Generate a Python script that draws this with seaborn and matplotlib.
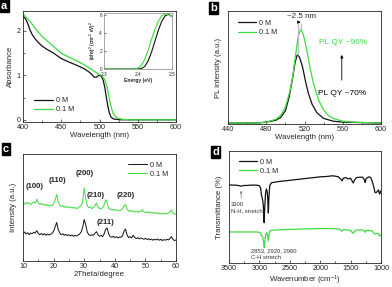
import numpy as np
import pandas as pd
import matplotlib
matplotlib.use('Agg')
import matplotlib.pyplot as plt
import seaborn as sns
from matplotlib.ticker import AutoMinorLocator, MultipleLocator

# ---- colours / labels
BLACK = '#111111'
GREEN = '#3ddc3d'
labels = ['0 M', '0.1 M']

# ---- (a) absorbance
abs_wl_0 = [400, 403, 406, 409, 412, 416, 420, 425, 430, 440, 450, 460, 470, 480, 486, 490, 493, 496,
            499, 501, 503, 505, 507, 509, 511, 513, 515, 518, 522, 527, 535, 560, 600]
abs_0 = [2.34, 2.28, 2.18, 2.03, 1.92, 1.82, 1.74, 1.66, 1.60, 1.50, 1.38, 1.30, 1.23, 1.15, 1.08, 1.02,
         0.96, 0.96, 1.00, 1.00, 0.96, 0.88, 0.72, 0.50, 0.30, 0.15, 0.06, 0.02, 0.01, 0.0, 0.0, 0.0, 0.0]
abs_wl_1 = [400, 403, 406, 410, 415, 420, 425, 430, 440, 450, 460, 470, 480, 490, 496, 500, 503, 506,
            508, 510, 512, 514, 516, 518, 521, 525, 530, 540, 560, 600]
abs_1 = [2.39, 2.33, 2.27, 2.20, 2.08, 1.97, 1.88, 1.80, 1.65, 1.50, 1.41, 1.33, 1.24, 1.13, 1.06, 1.02,
         0.99, 0.93, 0.85, 0.72, 0.55, 0.38, 0.24, 0.14, 0.07, 0.03, 0.01, 0.0, 0.0, 0.0]

# inset: Tauc plot
ins_e_0 = [2.30, 2.35, 2.40, 2.41, 2.42, 2.43, 2.44, 2.45, 2.46, 2.47, 2.48, 2.49, 2.50]
ins_0 = [0, 0, 0, 0.05, 0.3, 0.9, 1.9, 3.1, 4.3, 5.3, 5.9, 6.05, 5.8]
ins_e_1 = [2.30, 2.35, 2.39, 2.40, 2.41, 2.42, 2.43, 2.44, 2.45, 2.46, 2.47, 2.48, 2.49, 2.50]
ins_1 = [0, 0, 0, 0.08, 0.4, 1.1, 2.1, 3.3, 4.4, 5.3, 5.9, 6.1, 6.0, 5.8]

# ---- (b) PL
pl_wl_0 = [440, 470, 480, 490, 495, 500, 504, 507, 510, 512, 513, 515, 518, 521, 524, 528, 533, 540,
           550, 560, 600]
pl_0 = [0, 0, 0.01, 0.03, 0.06, 0.13, 0.28, 0.45, 0.64, 0.72, 0.73, 0.70, 0.60, 0.45, 0.32, 0.20,
        0.11, 0.05, 0.02, 0.01, 0]
pl_wl_1 = [440, 470, 480, 490, 495, 500, 505, 508, 511, 513, 515, 516, 518, 520, 523, 526, 530, 535,
           540, 545, 550, 560, 570, 600]
pl_1 = [0, 0, 0.01, 0.04, 0.08, 0.17, 0.35, 0.52, 0.75, 0.90, 0.98, 1.0, 0.97, 0.90, 0.75, 0.58,
        0.40, 0.24, 0.14, 0.08, 0.05, 0.02, 0.01, 0]

# ---- (c) XRD
two_theta = [10, 10.5, 11, 11.5, 12, 12.5, 13, 13.5, 14, 14.5, 15, 15.5, 16, 16.5, 17, 17.5, 18, 18.5,
             19, 19.5, 20, 20.5, 21, 21.5, 22, 22.5, 23, 23.5, 24, 24.5, 25, 25.5, 26, 26.5, 27, 27.5,
             28, 28.5, 29, 29.5, 30, 30.5, 31, 31.5, 32, 32.5, 33, 33.5, 34, 34.5, 35, 35.5, 36, 36.5,
             37, 37.5, 38, 38.5, 39, 39.5, 40, 40.5, 41, 41.5, 42, 42.5, 43, 43.5, 44, 44.5, 45, 45.5,
             46, 46.5, 47, 47.5, 48, 48.5, 49, 49.5, 50, 50.5, 51, 51.5, 52, 52.5, 53, 53.5, 54, 54.5,
             55, 55.5, 56, 56.5, 57, 57.5, 58, 58.5, 59, 59.5, 60]
xrd_0 = [84, 88, 82, 86, 80, 85, 83, 87, 85, 92, 84, 80, 84, 79, 83, 78, 82, 79,
         81, 84, 90, 104, 117, 96, 85, 80, 83, 78, 81, 77, 80, 76, 79, 75, 78, 76,
         79, 82, 88, 102, 126, 110, 88, 80, 77, 80, 78, 84, 89, 80, 75, 78, 74, 82,
         96, 100, 82, 74, 72, 75, 71, 74, 70, 73, 72, 76, 90, 97, 79, 71, 74, 70,
         78, 72, 68, 71, 67, 70, 68, 66, 69, 65, 68, 64, 67, 63, 66, 64, 67, 63,
         66, 62, 65, 63, 66, 64, 68, 74, 66, 62, 64]
xrd_1 = [176, 172, 178, 174, 177, 171, 175, 179, 176, 188, 177, 172, 175, 170, 173, 168, 171, 167,
         170, 168, 174, 185, 202, 180, 170, 166, 168, 163, 166, 162, 165, 161, 164, 160, 163, 159,
         162, 165, 168, 180, 222, 190, 168, 162, 164, 159, 163, 168, 176, 163, 160, 158, 162, 170,
         186, 176, 160, 156, 158, 154, 157, 153, 155, 152, 155, 158, 168, 171, 158, 151, 154, 150,
         153, 149, 152, 148, 151, 150, 156, 149, 147, 150, 146, 149, 145, 148, 144, 147, 143, 146,
         143, 146, 142, 145, 143, 146, 149, 155, 146, 142, 144]
hkl = ['(100)', '(110)', '(200)', '(210)', '(220)', '(211)']
hkl_x = [13.8, 21.4, 30.1, 33.9, 43.5, 37.0]
hkl_y = [225, 245, 267, 200, 200, 117]

# ---- (d) FTIR
ir_wn_0 = [3500, 3450, 3400, 3350, 3300, 3250, 3200, 3150, 3100, 3050, 3020, 3000, 2980, 2965, 2955,
           2940, 2930, 2922, 2912, 2900, 2885, 2870, 2860, 2853, 2845, 2830, 2800, 2700, 2600, 2500,
           2400, 2300, 2200, 2100, 2000, 1900, 1800, 1750, 1700, 1660, 1640, 1620, 1580, 1540, 1500,
           1470, 1455, 1440, 1400, 1350, 1300, 1270, 1260, 1245, 1200, 1170, 1150, 1120, 1100, 1080,
           1060, 1040, 1025, 1015, 1000]
ir_0 = [227, 226, 226, 225, 223, 225, 225, 226, 226, 226, 225, 224, 218, 195, 190,
        175, 150, 117, 160, 200, 215, 205, 175, 145, 185, 225, 233, 236, 238, 240,
        242, 244, 246, 248, 250, 251, 253, 252, 250, 243, 238, 246, 248, 244, 246,
        236, 232, 240, 248, 249, 249, 240, 234, 245, 250, 248, 240, 222, 205, 204,
        208, 212, 200, 203, 210]
ir_wn_1 = [3500, 3400, 3300, 3200, 3100, 3050, 3000, 2980, 2960, 2945, 2930, 2920, 2910, 2895, 2880,
           2865, 2853, 2843, 2830, 2800, 2600, 2400, 2200, 2000, 1800, 1700, 1660, 1640, 1620, 1550,
           1500, 1470, 1455, 1440, 1400, 1300, 1270, 1260, 1245, 1200, 1150, 1120, 1100, 1070, 1040,
           1025, 1015, 1000]
ir_1 = [90, 90, 90, 90, 90, 90, 89, 86, 78, 75, 60, 45, 65, 84, 88,
        80, 64, 80, 92, 95, 97, 98, 99, 100, 100, 99, 95, 92, 97, 96,
        94, 88, 86, 92, 96, 96, 92, 89, 94, 95, 93, 88, 84, 86, 85,
        78, 80, 82]

# ---- style
sns.set_style('ticks')
plt.rcParams['font.family'] = ['Liberation Sans', 'DejaVu Sans']
plt.rcParams['mathtext.default'] = 'regular'
plt.rcParams['axes.linewidth'] = 0.6
for k in ['xtick', 'ytick']:
    plt.rcParams[k + '.direction'] = 'in'
    plt.rcParams[k + '.major.size'] = 2
    plt.rcParams[k + '.minor.size'] = 1.2
    plt.rcParams[k + '.major.width'] = 0.5
    plt.rcParams[k + '.minor.width'] = 0.5
    plt.rcParams[k + '.major.pad'] = 1.5
    plt.rcParams[k + '.labelsize'] = 5.2

W, H = 392, 287
fig = plt.figure(figsize=(W / 100, H / 100), dpi=100)


def box(l, t, r, b):
    return [l / W, 1 - b / H, (r - l) / W, (b - t) / H]


def badge(x, y, s):
    fig.text(x / W, 1 - y / H, s, color='white', fontsize=8, fontweight='bold', ha='left', va='top',
             bbox=dict(boxstyle='square,pad=0.12', facecolor='black', edgecolor='black'))


LW = 0.9
LAB = 5.6

# ---- panel a
ax_a = fig.add_axes(box(23, 11, 176, 122))
sns.lineplot(x=abs_wl_0, y=abs_0, ax=ax_a, color=BLACK, lw=LW, label=labels[0])
sns.lineplot(x=abs_wl_1, y=abs_1, ax=ax_a, color=GREEN, lw=LW, label=labels[1])
ax_a.set_xlim(400, 600)
ax_a.set_ylim(-0.05, 2.45)
ax_a.xaxis.set_major_locator(MultipleLocator(50))
ax_a.yaxis.set_major_locator(MultipleLocator(1))
ax_a.xaxis.set_minor_locator(AutoMinorLocator(2))
ax_a.yaxis.set_minor_locator(AutoMinorLocator(2))
ax_a.set_xlabel('Wavelength (nm)', fontsize=LAB, labelpad=1)
ax_a.set_ylabel('Absorbance', fontsize=LAB, labelpad=2)
ax_a.legend(loc='lower left', bbox_to_anchor=(0.03, 0.02), frameon=False, fontsize=5.2,
            handlelength=2.6, handletextpad=0.4, labelspacing=0.3)

ax_i = fig.add_axes(box(104, 13, 172, 69))
sns.lineplot(x=ins_e_0, y=ins_0, ax=ax_i, color=BLACK, lw=0.8)
sns.lineplot(x=ins_e_1, y=ins_1, ax=ax_i, color=GREEN, lw=0.8)
ax_i.set_xlim(2.3, 2.5)
ax_i.set_ylim(0, 6.2)
ax_i.set_xticks([2.3, 2.4, 2.5])
ax_i.set_yticks([0, 2, 4, 6])
ax_i.tick_params(labelsize=3.4, length=1.2)
ax_i.tick_params(axis='x', pad=2.2)
ax_i.tick_params(axis='y', pad=1.5)
for sp in ax_i.spines.values():
    sp.set_color('#999999')
ax_i.set_xlabel('Energy (eV)', fontsize=3.6, labelpad=0.5, fontweight='bold')
ax_i.set_ylabel(r'(αhν)$^2$ (cm$^{-1}$ eV)$^2$', fontsize=3.3, labelpad=1, fontweight='bold')

# ---- panel b
ax_b = fig.add_axes(box(228, 11, 381, 124))
sns.lineplot(x=pl_wl_0, y=pl_0, ax=ax_b, color=BLACK, lw=LW, label=labels[0])
sns.lineplot(x=pl_wl_1, y=pl_1, ax=ax_b, color=GREEN, lw=LW, label=labels[1])
ax_b.set_xlim(440, 600)
ax_b.set_ylim(-0.01, 1.2)
ax_b.xaxis.set_major_locator(MultipleLocator(40))
ax_b.xaxis.set_minor_locator(AutoMinorLocator(2))
ax_b.set_yticks([])
ax_b.set_xlabel('Wavelength (nm)', fontsize=LAB, labelpad=1)
ax_b.set_ylabel('PL intensity (a.u.)', fontsize=LAB, labelpad=4)
ax_b.legend(loc='upper left', bbox_to_anchor=(0.02, 0.98), frameon=False, fontsize=5.2,
            handlelength=2.6, handletextpad=0.4, labelspacing=0.3)
ax_b.vlines([513], 0.73, 1.07, color='#bbbbbb', lw=0.9)
ax_b.vlines([516], 1.0, 1.07, color='#bbbbbb', lw=0.9)
ax_b.annotate('', xy=(519, 1.08), xytext=(511, 1.08),
              arrowprops=dict(arrowstyle='-|>', color='black', lw=0.6, mutation_scale=4))
ax_b.text(517, 1.14, '~2.5 nm', fontsize=5.8, ha='center', va='center')
ax_b.text(535, 0.86, 'PL QY ~96%', fontsize=6, color=GREEN, ha='left', va='center')
ax_b.text(534, 0.32, 'PL QY ~70%', fontsize=6, color='black', ha='left', va='center')
ax_b.annotate('', xy=(559, 0.76), xytext=(559, 0.43),
              arrowprops=dict(arrowstyle='-|>', color='black', lw=0.6, mutation_scale=4))

# ---- panel c
ax_c = fig.add_axes(box(23, 154, 176, 261))
sns.lineplot(x=two_theta, y=xrd_0, ax=ax_c, color=BLACK, lw=0.7, label=labels[0])
sns.lineplot(x=two_theta, y=xrd_1, ax=ax_c, color=GREEN, lw=0.7, label=labels[1])
ax_c.set_xlim(10, 60)
ax_c.set_ylim(0, 325)
ax_c.xaxis.set_major_locator(MultipleLocator(10))
ax_c.xaxis.set_minor_locator(AutoMinorLocator(2))
ax_c.set_yticks([])
ax_c.set_xlabel('2Theta/degree', fontsize=LAB, labelpad=1)
ax_c.set_ylabel('Intensity (a.u.)', fontsize=LAB, labelpad=4)
leg = ax_c.legend(loc='upper right', bbox_to_anchor=(0.99, 0.99), frameon=False, fontsize=5.2,
                  handlelength=2.6, handletextpad=0.4, labelspacing=0.3)
for s, x, y in zip(hkl, hkl_x, hkl_y):
    ax_c.text(x, y, s, fontsize=5.6, fontweight='bold', ha='center', va='center')

# ---- panel d
ax_d = fig.add_axes(box(229, 151, 381, 263))
sns.lineplot(x=ir_wn_0, y=ir_0, ax=ax_d, color=BLACK, lw=LW, label=labels[0], sort=False)
sns.lineplot(x=ir_wn_1, y=ir_1, ax=ax_d, color=GREEN, lw=LW, label=labels[1], sort=False)
ax_d.set_xlim(3500, 1000)
ax_d.set_ylim(0, 325)
ax_d.xaxis.set_major_locator(MultipleLocator(500))
ax_d.xaxis.set_minor_locator(AutoMinorLocator(2))
ax_d.set_yticks([])
ax_d.set_xlabel('Wavenumber (cm$^{-1}$)', fontsize=LAB, labelpad=1)
ax_d.set_ylabel('Transmittance (%)', fontsize=LAB, labelpad=4)
ax_d.legend(loc='upper left', bbox_to_anchor=(0.02, 0.99), frameon=False, fontsize=5.2,
            handlelength=2.6, handletextpad=0.4, labelspacing=0.3)
ax_d.annotate('', xy=(3300, 218), xytext=(3300, 180),
              arrowprops=dict(arrowstyle='-|>', color='#777777', lw=0.5, mutation_scale=3))
ax_d.text(3467, 178, '3300\nN-H, stretch', fontsize=4.2, color='#333333', ha='left', va='top',
          linespacing=1.4)
ax_d.text(3138, 42, '2853, 2920, 2960\nC-H stretch', fontsize=4.2, color='#333333', ha='left',
          va='top', linespacing=1.4)

badge(1, 1, 'a')
badge(210, 3, 'b')
badge(3, 144, 'c')
badge(212, 147, 'd')

fig.savefig('out.png', dpi=100)
